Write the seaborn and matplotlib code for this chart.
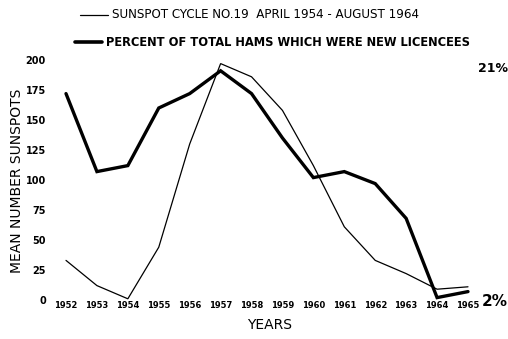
import numpy as np
import pandas as pd
import matplotlib
matplotlib.use("Agg")
import matplotlib.pyplot as plt
import seaborn as sns

# Years along the bottom axis
years = [1952, 1953, 1954, 1955, 1956, 1957, 1958, 1959, 1960, 1961, 1962, 1963, 1964, 1965]
# Mean number of sunspots (cycle 19)
sunspots = [33, 12, 1, 44, 130, 197, 186, 158, 112, 61, 33, 22, 9, 11]
# Share of new licencees, plotted on the sunspot scale (2% at bottom, 21% at top)
new_licencees = [172, 107, 112, 160, 172, 191, 172, 135, 102, 107, 97, 68, 2, 7]
y_ticks = [0, 25, 50, 75, 100, 125, 150, 175, 200]

df = pd.DataFrame({"year": years, "sunspots": sunspots, "licencees": new_licencees})

sns.set_style("white")
plt.rcParams["font.family"] = ["DejaVu Sans"]
plt.rcParams["text.color"] = "black"
plt.rcParams["xtick.color"] = "black"
plt.rcParams["ytick.color"] = "black"

W, H = 508, 339
fig = plt.figure(figsize=(W / 100, H / 100), dpi=100)
ax_left, ax_right, ax_top, ax_bot = 50, 485, 55, 300
ax = fig.add_axes([ax_left / W, 1 - ax_bot / H, (ax_right - ax_left) / W, (ax_bot - ax_top) / H])

sns.lineplot(data=df, x="year", y="sunspots", ax=ax, color="black", linewidth=0.9)
sns.lineplot(data=df, x="year", y="licencees", ax=ax, color="black", linewidth=2.4)
for ln in ax.lines:
    ln.set_clip_on(False)
    ln.set_solid_joinstyle("miter")

px_per_year = (468 - 66) / 13
ax.set_xlim(1952 - (66 - ax_left) / px_per_year, 1965 + (ax_right - 468) / px_per_year)
ax.set_ylim(0, 200 + 5 / 1.2)

ax.set_xticks(years)
ax.set_xticklabels([str(y) for y in years], fontsize=6, fontweight="bold")
ax.set_yticks(y_ticks)
ax.set_yticklabels([str(v) for v in y_ticks], fontsize=7, fontweight="bold")
ax.tick_params(axis="both", length=0)
ax.tick_params(axis="x", pad=1)
ax.tick_params(axis="y", pad=3)
ax.set_xlabel("")
ax.set_ylabel("")
for s in ax.spines.values():
    s.set_visible(False)

# Axis titles
fig.text(17 / W, 1 - 181 / H, "MEAN NUMBER SUNSPOTS", rotation=90, fontsize=10,
         ha="center", va="center")
fig.text(270 / W, 1 - 325 / H, "YEARS", fontsize=10, ha="center", va="center")

# Legend lines at the top
fig.add_artist(plt.Line2D([80 / W, 108 / W], [1 - 15 / H, 1 - 15 / H], color="black", linewidth=0.9))
fig.text(112 / W, 1 - 15 / H, "SUNSPOT CYCLE NO.19  APRIL 1954 - AUGUST 1964", fontsize=8.6,
         ha="left", va="center")
fig.add_artist(plt.Line2D([75 / W, 102 / W], [1 - 42 / H, 1 - 42 / H], color="black", linewidth=2.6))
fig.text(106 / W, 1 - 42 / H, "PERCENT OF TOTAL HAMS WHICH WERE NEW LICENCEES", fontsize=8.3,
         fontweight="bold", ha="left", va="center")

# Percent scale end labels
fig.text(478 / W, 1 - 68 / H, "21%", fontsize=9, fontweight="bold", ha="left", va="center")
fig.text(482 / W, 1 - 302 / H, "2%", fontsize=11, fontweight="bold", ha="left", va="center")

fig.savefig("out.png", dpi=100)
